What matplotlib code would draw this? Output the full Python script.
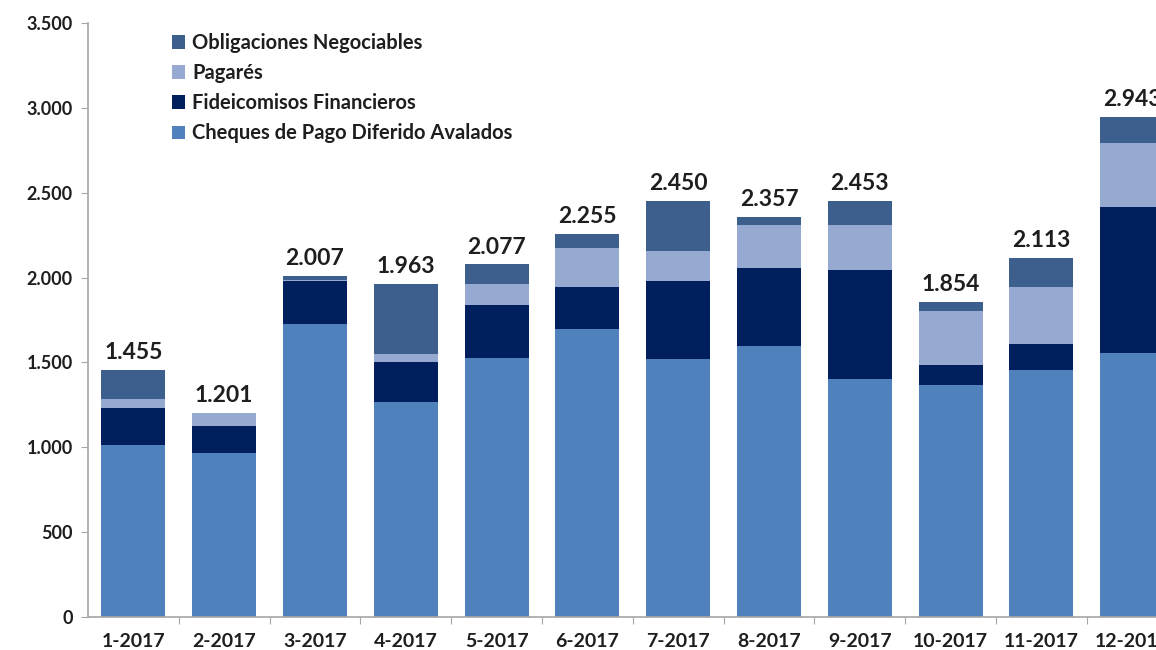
import matplotlib
matplotlib.use("Agg")
import matplotlib.pyplot as plt
from matplotlib.ticker import FuncFormatter, MultipleLocator
import numpy as np

categories = ["1-2017", "2-2017", "3-2017", "4-2017", "5-2017", "6-2017",
              "7-2017", "8-2017", "9-2017", "10-2017", "11-2017", "12-2017"]
cheques = [1015, 967, 1728, 1270, 1524, 1695, 1518, 1597, 1404, 1367, 1456, 1557]
fideicomisos = [218, 159, 252, 230, 316, 251, 461, 461, 638, 116, 151, 860]
pagares = [52, 75, 7, 47, 120, 229, 179, 249, 265, 318, 339, 377]
obligaciones = [170, 0, 20, 416, 117, 80, 292, 50, 146, 53, 167, 149]
totals = [1455, 1201, 2007, 1963, 2077, 2255, 2450, 2357, 2453, 1854, 2113, 2943]

series_names = ["Cheques de Pago Diferido Avalados", "Fideicomisos Financieros",
                "Pagarés", "Obligaciones Negociables"]
series_colors = ["#4F81BD", "#001F5C", "#95A9D1", "#3C5F8D"]

plt.rcParams['font.family'] = ['Lato', 'DejaVu Sans']
txt = "#1E1E1E"

fig = plt.figure(figsize=(11.56, 6.5), dpi=100)
ax = fig.add_axes([88/1156, 32.7/650, 1089.6/1156, 594.6/650])

x = np.arange(len(categories))
bottom = np.zeros(len(categories))
handles = []
for vals, name, col in zip([cheques, fideicomisos, pagares, obligaciones], series_names, series_colors):
    b = ax.bar(x, vals, width=0.705, bottom=bottom, color=col, label=name, linewidth=0)
    handles.append(b)
    bottom += np.array(vals)

def fmt(v, pos=None):
    return f"{int(round(v)):,}".replace(",", ".")

for xi, t in zip(x, totals):
    ax.annotate(fmt(t), (xi, t), xytext=(0, 5), textcoords="offset points",
                ha="center", va="bottom", fontsize=16.5, fontweight="bold", color=txt)

ax.set_xlim(-0.5, 11.5)
ax.set_ylim(0, 3500)
ax.yaxis.set_major_locator(MultipleLocator(500))
ax.yaxis.set_major_formatter(FuncFormatter(fmt))
ax.set_xticks(np.arange(len(categories)) + 0.5, minor=False)
ax.set_xticklabels([])
ax.set_xticks(x, minor=True)
ax.set_xticklabels(categories, minor=True)
ax.tick_params(axis="x", which="minor", length=0, pad=11, labelsize=14, labelcolor=txt)
ax.tick_params(axis="x", which="major", length=5, color="#A6A6A6", direction="out")
ax.tick_params(axis="y", length=5, color="#A6A6A6", direction="out", pad=6,
               labelsize=13, labelcolor=txt)
for lab in ax.get_xticklabels(minor=True) + ax.get_yticklabels():
    lab.set_fontweight("bold")

for s in ["top", "right"]:
    ax.spines[s].set_visible(False)
for s in ["left", "bottom"]:
    ax.spines[s].set_color("#A6A6A6")
    ax.spines[s].set_linewidth(1.2)

leg = ax.legend(handles[::-1], series_names[::-1], loc="upper left",
                frameon=False, handlelength=0.65, handleheight=0.65, handletextpad=0.35,
                labelspacing=0.5, prop={"weight": "bold", "size": 14.5})
leg.set_bbox_to_anchor((154/1156, 1 - 15/650), transform=fig.transFigure)
for t in leg.get_texts():
    t.set_color(txt)

fig.savefig("out.png", dpi=100)
